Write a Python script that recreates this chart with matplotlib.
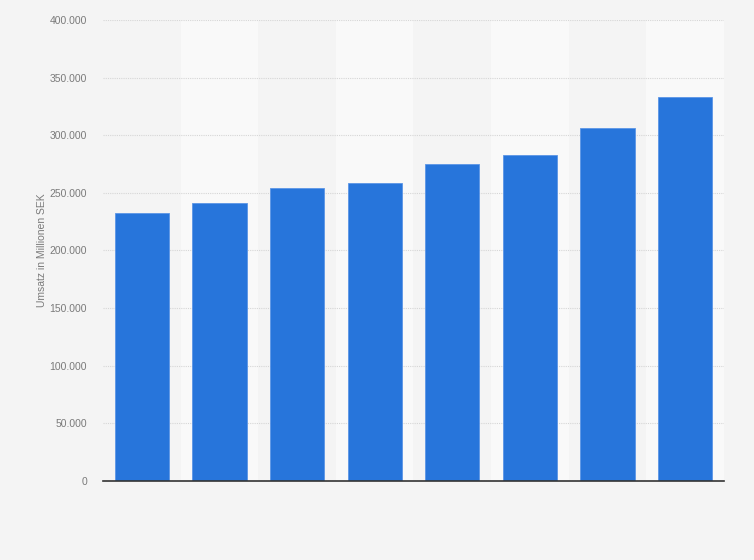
import matplotlib.pyplot as plt
from matplotlib.ticker import FuncFormatter

plt.rcParams['font.family'] = ['Liberation Sans', 'DejaVu Sans']

# Umsatz in Millionen SEK
values = [232500, 241000, 254500, 258600, 275200, 282600, 306300, 333300]
y_ticks = [0, 50000, 100000, 150000, 200000, 250000, 300000, 350000, 400000]

fig = plt.figure(figsize=(7.54, 5.6), dpi=100)
fig.patch.set_facecolor('#f4f4f4')
ax = fig.add_axes([0.1366, 0.1411, 0.8236, 0.8232])
ax.set_facecolor('#f4f4f4')

x = list(range(len(values)))

# abwechselnde Spaltenbaender
for i in x:
    if i % 2 == 1:
        ax.axvspan(i - 0.5, i + 0.5, color='#f9f9f9', zorder=0, lw=0)

ax.bar(x, values, width=0.7, color='#2775db', edgecolor='#5b95e6', linewidth=0.6, zorder=3)

ax.set_xlim(-0.5, len(values) - 0.5)
ax.set_ylim(0, 400000)
ax.set_yticks(y_ticks)
ax.yaxis.set_major_formatter(FuncFormatter(lambda v, p: f'{int(v):,}'.replace(',', '.')))
ax.set_xticks([])

ax.grid(axis='y', color='#d6d6d6', linestyle=(0, (1, 1)), linewidth=0.8, zorder=1)
for s in ['top', 'right', 'left']:
    ax.spines[s].set_visible(False)
ax.spines['bottom'].set_color('#333333')
ax.spines['bottom'].set_linewidth(1.2)
ax.spines['bottom'].set_zorder(4)

ax.tick_params(axis='y', length=0, labelsize=7.5, labelcolor='#7a7a7a', pad=11.5)
ax.set_ylabel('Umsatz in Millionen SEK', fontsize=7.5, color='#7a7a7a', labelpad=2)

fig.savefig('out.png', dpi=100, facecolor=fig.get_facecolor())
